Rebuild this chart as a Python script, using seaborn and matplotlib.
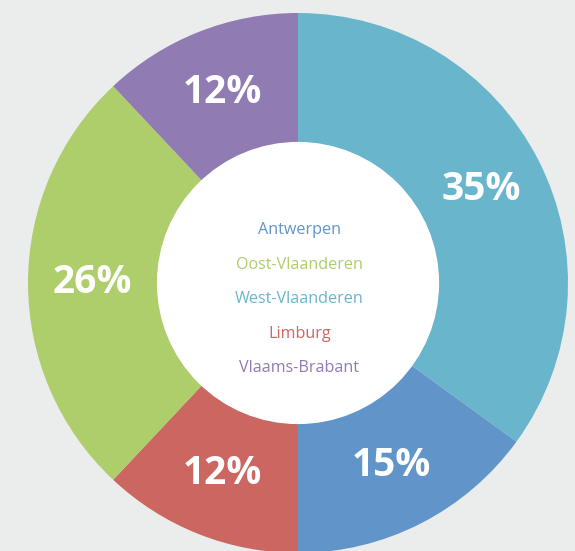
import matplotlib
matplotlib.use('Agg')
import matplotlib.pyplot as plt
import seaborn as sns

# -- Data (clockwise from 12 o'clock) --
regions = ['West-Vlaanderen', 'Antwerpen', 'Limburg', 'Oost-Vlaanderen', 'Vlaams-Brabant']
shares = [35, 15, 12, 26, 12]
colors = ['#69b6cc', '#6194c8', '#cb6660', '#aecd6b', '#917bb3']

# legend order shown in the centre
legend_order = ['Antwerpen', 'Oost-Vlaanderen', 'West-Vlaanderen', 'Limburg', 'Vlaams-Brabant']

bg = '#ebeded'
sns.set_theme(style='white')
plt.rcParams['font.family'] = ['Open Sans', 'DejaVu Sans']

fig = plt.figure(figsize=(5.75, 5.51), dpi=100, facecolor=bg)
ax = fig.add_axes([0, 0, 1, 1])
ax.set_facecolor(bg)

palette = sns.color_palette(colors)
wedges, texts, autotexts = ax.pie(
    shares, colors=palette, startangle=90, counterclock=False,
    radius=1.0, autopct=lambda p: f'{p:.0f}%', pctdistance=0.76,
    wedgeprops=dict(width=0.48, linewidth=0),
    textprops=dict(color='white', fontsize=28, fontweight='bold'),
)

# white centre disc
ax.add_patch(plt.Circle((0, 0), 0.52, color='white', zorder=3))

# centre legend
color_of = dict(zip(regions, colors))
for i, name in enumerate(legend_order):
    ax.text(0.005, 0.196 - i * 0.1278, name, color=color_of[name],
            ha='center', va='center', fontsize=11.6, zorder=4)

# framing: centre at (298, 283) px, radius 270 px
ax.set_xlim(-298 / 270, (575 - 298) / 270)
ax.set_ylim(-(551 - 283) / 270, 283 / 270)
ax.set_aspect('auto')
ax.axis('off')

plt.savefig('out.png', dpi=100, facecolor=bg)
plt.close()
